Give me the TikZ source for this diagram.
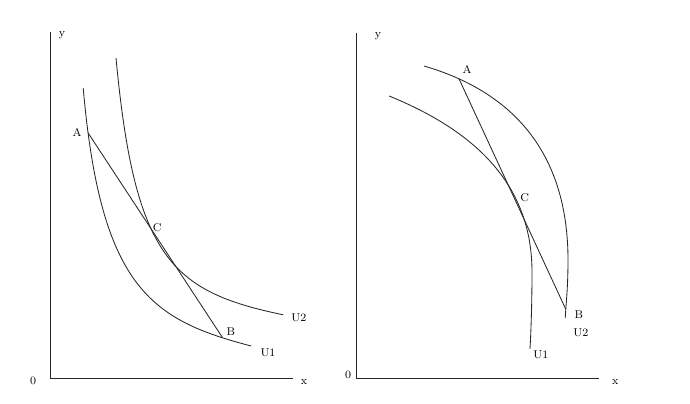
\documentclass[tikz,border=0pt]{standalone}
\usepackage{amsmath,amssymb}
\usepackage{tikz}
\usetikzlibrary{positioning}

\tikzset{
  curve/.style={line width=0.6pt, black!85},
  lbl/.style={font=\footnotesize, inner sep=1pt},
}

\begin{document}
\begin{tikzpicture}[scale=1.0]
  \useasboundingbox (0,0) rectangle (17.25,10.1);
  % left panel: convex curves
  \coordinate (O1) at (1.27,0.65);
  \coordinate (Y1) at (1.27,9.3);
  \coordinate (X1) at (7.33,0.65);
  \draw[curve] (Y1) -- (O1) -- (X1);
  \node[lbl] (y1) at (1.55,9.23) {y};
  \node[lbl] (o1) at (0.83,0.58) {0};
  \node[lbl] (x1) at (7.6,0.55) {x};
  \draw[curve] (2.08,7.9) .. controls (2.52,2.9) and (3.78,2.1) .. (6.28,1.45)
    coordinate[pos=0.08] (A1) coordinate[pos=0.9] (B1) coordinate[pos=1] (U1e);
  \draw[curve] (2.9,8.65) .. controls (3.37,3.65) and (4.28,2.81) .. (7.08,2.23)
    coordinate[pos=1] (U2e);
  \coordinate (C1) at (3.76,4.4);
  \draw[curve] (A1) -- (B1);
  \node[lbl] (a1) at (1.93,6.8) {A};
  \node[lbl] (b1) at (5.77,1.8) {B};
  \node[lbl] (c1) at (3.93,4.4) {C};
  \node[lbl] (u1a) at (6.7,1.28) {U1};
  \node[lbl] (u2a) at (7.47,2.15) {U2};
  % right panel: concave curves
  \coordinate (O2) at (8.92,0.65);
  \coordinate (Y2) at (8.92,9.28);
  \coordinate (X2) at (14.98,0.65);
  \draw[curve] (Y2) -- (O2) -- (X2);
  \node[lbl] (y2) at (9.45,9.2) {y};
  \node[lbl] (o2) at (8.7,0.73) {0};
  \node[lbl] (x2) at (15.38,0.55) {x};
  \draw[curve] (10.6,8.45) .. controls (12.8,7.81) and (14.2,6.3) .. (14.2,3.6)
    coordinate[pos=0.14] (A2)
    .. controls (14.2,2.9) and (14.15,2.5) .. (14.13,2.15)
    coordinate[pos=0.8] (B2) coordinate[pos=1] (V2e);
  \draw[curve] (9.73,7.7) .. controls (11.73,6.88) and (13.3,5.6) .. (13.3,3.3)
    .. controls (13.3,2.6) and (13.28,1.9) .. (13.25,1.38)
    coordinate[pos=1] (V1e);
  \coordinate (C2) at (12.78,5.33);
  \draw[curve] (A2) -- (B2);
  \node[lbl] (a2) at (11.68,8.37) {A};
  \node[lbl] (b2) at (14.47,2.23) {B};
  \node[lbl] (c2) at (13.12,5.15) {C};
  \node[lbl] (u1b) at (13.52,1.23) {U1};
  \node[lbl] (u2b) at (14.52,1.78) {U2};
\end{tikzpicture}
\end{document}
